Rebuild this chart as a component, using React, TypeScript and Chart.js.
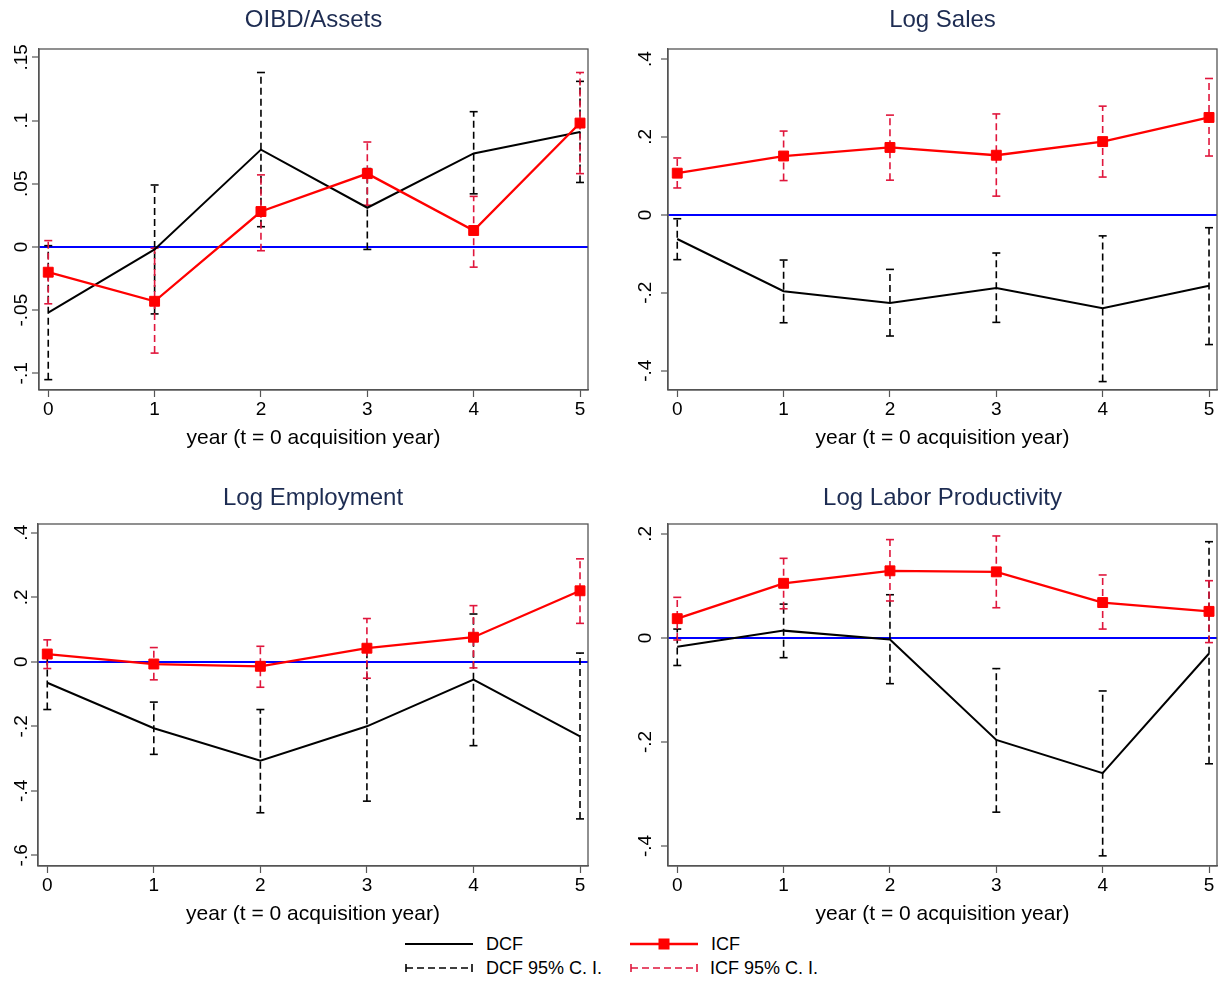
import React, { useEffect, useRef } from "react";
import { Chart, registerables } from "chart.js";

Chart.register(...registerables);

// ---------- data ----------
const years = [0, 1, 2, 3, 4, 5];
const xTickValues = [0, 1, 2, 3, 4, 5];
const xTitle = "year (t = 0 acquisition year)";

const oibdDcf = [-0.052, -0.002, 0.077, 0.031, 0.074, 0.091];
const oibdDcfLo = [-0.105, -0.053, 0.016, -0.002, 0.042, 0.051];
const oibdDcfHi = [0.001, 0.049, 0.138, 0.062, 0.107, 0.131];
const oibdIcf = [-0.02, -0.043, 0.028, 0.058, 0.013, 0.098];
const oibdIcfLo = [-0.045, -0.084, -0.003, 0.033, -0.016, 0.058];
const oibdIcfHi = [0.005, -0.001, 0.057, 0.083, 0.04, 0.138];
const oibdYTicks = [-0.1, -0.05, 0, 0.05, 0.1, 0.15];

const salesDcf = [-0.062, -0.196, -0.226, -0.188, -0.24, -0.182];
const salesDcfLo = [-0.115, -0.277, -0.311, -0.276, -0.428, -0.333];
const salesDcfHi = [-0.01, -0.116, -0.14, -0.098, -0.054, -0.033];
const salesIcf = [0.107, 0.151, 0.173, 0.153, 0.188, 0.25];
const salesIcfLo = [0.069, 0.088, 0.089, 0.048, 0.097, 0.151];
const salesIcfHi = [0.146, 0.215, 0.256, 0.259, 0.279, 0.35];
const salesYTicks = [-0.4, -0.2, 0, 0.2, 0.4];

const emplDcf = [-0.065, -0.206, -0.307, -0.2, -0.055, -0.231];
const emplDcfLo = [-0.148, -0.287, -0.468, -0.432, -0.26, -0.487];
const emplDcfHi = [0.019, -0.125, -0.148, 0.031, 0.148, 0.027];
const emplIcf = [0.024, -0.007, -0.014, 0.042, 0.076, 0.22];
const emplIcfLo = [-0.021, -0.056, -0.079, -0.051, -0.019, 0.119];
const emplIcfHi = [0.068, 0.044, 0.048, 0.134, 0.174, 0.319];
const emplYTicks = [-0.6, -0.4, -0.2, 0, 0.2, 0.4];

const prodDcf = [-0.017, 0.014, -0.003, -0.196, -0.26, -0.03];
const prodDcfLo = [-0.053, -0.038, -0.088, -0.335, -0.419, -0.242];
const prodDcfHi = [0.017, 0.065, 0.083, -0.059, -0.102, 0.185];
const prodIcf = [0.037, 0.105, 0.129, 0.127, 0.068, 0.051];
const prodIcfLo = [-0.004, 0.056, 0.071, 0.058, 0.017, -0.009];
const prodIcfHi = [0.078, 0.153, 0.189, 0.196, 0.121, 0.11];
const prodYTicks = [-0.4, -0.2, 0, 0.2];

const legendLabels = ["DCF", "ICF", "DCF 95% C. I.", "ICF 95% C. I."];

// ---------- styles ----------
const FONT = "'Liberation Sans', Arial, Helvetica, sans-serif";
const TITLE_COLOR = "#1d2c52";
const FRAME_COLOR = "#555555";
const RED = "#ff0000";
const CI_RED = "#e0163c";
const BLUE = "#0000ff";

function stataLabel(v: number): string {
  if (Math.abs(v) < 1e-9) return "0";
  const s = String(Math.round(v * 100) / 100);
  return s.replace(/^(-?)0\./, "$1.");
}

const framePlugin = {
  id: "stataFrame",
  afterDatasetsDraw(chart: any) {
    const { ctx, chartArea: a } = chart;
    ctx.save();
    ctx.strokeStyle = FRAME_COLOR;
    ctx.lineWidth = 1.3;
    ctx.strokeRect(a.left, a.top, a.right - a.left, a.bottom - a.top);
    ctx.restore();
  },
};

interface PanelSpec {
  title: string;
  dcf: number[];
  dcfLo: number[];
  dcfHi: number[];
  icf: number[];
  icfLo: number[];
  icfHi: number[];
  yTicks: number[];
  yMin: number;
  yMax: number;
  left: number;
  top: number;
  width: number;
  height: number;
  axisWidth: number;
  padRight: number;
  titleTop: number;
  titleBottom: number;
  yLabelPad: number;
}

function ciData(lo: number[], hi: number[]) {
  const out: any[] = [];
  years.forEach((x, i) => {
    out.push({ x, y: lo[i] });
    out.push({ x, y: hi[i] });
    out.push({ x, y: null });
  });
  return out;
}

function Panel({ spec }: { spec: PanelSpec }) {
  const ref = useRef<HTMLCanvasElement | null>(null);
  useEffect(() => {
    if (!ref.current) return;
    const s = spec;
    const chart = new Chart(ref.current, {
      type: "line",
      data: {
        datasets: [
          {
            label: "ICF",
            data: years.map((x, i) => ({ x, y: s.icf[i] })),
            borderColor: RED,
            borderWidth: 2.3,
            pointStyle: "rect",
            pointRadius: 7,
            pointBackgroundColor: RED,
            pointBorderColor: RED,
            pointBorderWidth: 1,
            tension: 0,
          },
          {
            label: "DCF",
            data: years.map((x, i) => ({ x, y: s.dcf[i] })),
            borderColor: "#000000",
            borderWidth: 2,
            pointRadius: 0,
            tension: 0,
          },
          {
            label: "ICF 95% C. I.",
            data: ciData(s.icfLo, s.icfHi),
            borderColor: CI_RED,
            borderWidth: 1.6,
            borderDash: [7, 4],
            pointStyle: "line",
            pointRadius: 4,
            pointBorderColor: CI_RED,
            pointBorderWidth: 1.6,
            spanGaps: false,
          },
          {
            label: "DCF 95% C. I.",
            data: ciData(s.dcfLo, s.dcfHi),
            borderColor: "#000000",
            borderWidth: 1.6,
            borderDash: [7, 4],
            pointStyle: "line",
            pointRadius: 4,
            pointBorderColor: "#000000",
            pointBorderWidth: 1.6,
            spanGaps: false,
          },
        ] as any,
      },
      options: {
        animation: false,
        responsive: false,
        events: [],
        layout: { padding: { left: 0, right: s.padRight, top: 0, bottom: 0 } },
        plugins: {
          legend: { display: false },
          tooltip: { enabled: false },
          title: {
            display: true,
            text: s.title,
            fullSize: false,
            color: TITLE_COLOR,
            font: { family: FONT, size: 24, weight: "normal" as any, lineHeight: 1.2 },
            padding: { top: s.titleTop, bottom: s.titleBottom },
          },
        },
        scales: {
          x: {
            type: "linear",
            min: -0.087,
            max: 5.075,
            afterBuildTicks: (sc: any) => {
              sc.ticks = xTickValues.map((v) => ({ value: v }));
            },
            afterFit: (sc: any) => {
              sc.height = 61;
            },
            ticks: {
              color: "#000000",
              font: { family: FONT, size: 19, lineHeight: 1.2 },
              padding: 1.6,
              maxRotation: 0,
              minRotation: 0,
              callback: (v: any) => String(v),
            },
            grid: {
              drawOnChartArea: false,
              drawTicks: true,
              tickLength: 7,
              tickColor: FRAME_COLOR,
              tickWidth: 1.2,
            },
            border: { display: true, color: FRAME_COLOR, width: 1.3 },
            title: {
              display: true,
              text: xTitle,
              color: "#000000",
              font: { family: FONT, size: 21, lineHeight: 1.2 },
              padding: { top: 0, bottom: 0 },
            },
          },
          y: {
            type: "linear",
            min: s.yMin,
            max: s.yMax,
            afterBuildTicks: (sc: any) => {
              sc.ticks = s.yTicks.map((v) => ({ value: v }));
            },
            afterFit: (sc: any) => {
              sc.width = s.axisWidth;
            },
            ticks: {
              color: "#000000",
              font: { family: FONT, size: 19, lineHeight: 1.2 },
              minRotation: 90,
              maxRotation: 90,
              crossAlign: "center",
              padding: s.yLabelPad,
              callback: (v: any) => stataLabel(Number(v)),
            },
            grid: {
              drawOnChartArea: true,
              drawTicks: true,
              tickLength: 7,
              color: (ctx: any) =>
                ctx.tick && Math.abs(ctx.tick.value) < 1e-9 ? BLUE : "rgba(0,0,0,0)",
              lineWidth: (ctx: any) =>
                ctx.tick && Math.abs(ctx.tick.value) < 1e-9 ? 2 : 0,
              tickColor: FRAME_COLOR,
              tickWidth: 1.2,
            },
            border: { display: true, color: FRAME_COLOR, width: 1.3 },
          },
        },
      } as any,
      plugins: [framePlugin],
    });
    return () => chart.destroy();
  }, [spec]);
  return (
    <canvas
      ref={ref}
      width={spec.width}
      height={spec.height}
      style={{
        position: "absolute",
        left: spec.left,
        top: spec.top,
        width: spec.width,
        height: spec.height,
      }}
    />
  );
}

const panels: PanelSpec[] = [
  {
    title: "OIBD/Assets",
    dcf: oibdDcf, dcfLo: oibdDcfLo, dcfHi: oibdDcfHi,
    icf: oibdIcf, icfLo: oibdIcfLo, icfHi: oibdIcfHi,
    yTicks: oibdYTicks, yMin: -0.1132, yMax: 0.1566,
    left: 0, top: 0, width: 610, height: 451,
    axisWidth: 39, padRight: 22, titleTop: 5.6, titleBottom: 14.6, yLabelPad: -6,
  },
  {
    title: "Log Sales",
    dcf: salesDcf, dcfLo: salesDcfLo, dcfHi: salesDcfHi,
    icf: salesIcf, icfLo: salesIcfLo, icfHi: salesIcfHi,
    yTicks: salesYTicks, yMin: -0.4496, yMax: 0.4257,
    left: 610, top: 0, width: 615, height: 451,
    axisWidth: 58, padRight: 8, titleTop: 5.6, titleBottom: 14.6, yLabelPad: 4.5,
  },
  {
    title: "Log Employment",
    dcf: emplDcf, dcfLo: emplDcfLo, dcfHi: emplDcfHi,
    icf: emplIcf, icfLo: emplIcfLo, icfHi: emplIcfHi,
    yTicks: emplYTicks, yMin: -0.633, yMax: 0.427,
    left: 0, top: 474, width: 610, height: 453,
    axisWidth: 38, padRight: 22, titleTop: 9.6, titleBottom: 11.6, yLabelPad: -1.5,
  },
  {
    title: "Log Labor Productivity",
    dcf: prodDcf, dcfLo: prodDcfLo, dcfHi: prodDcfHi,
    icf: prodIcf, icfLo: prodIcfLo, icfHi: prodIcfHi,
    yTicks: prodYTicks, yMin: -0.4385, yMax: 0.219,
    left: 610, top: 474, width: 615, height: 453,
    axisWidth: 58, padRight: 8, titleTop: 9.6, titleBottom: 11.6, yLabelPad: 4.5,
  },
];

function LegendSymbol({ kind }: { kind: number }) {
  const w = 68;
  const h = 16;
  const mid = h / 2;
  if (kind === 0) {
    return (
      <svg width={w} height={h}>
        <line x1={0} y1={mid} x2={w} y2={mid} stroke="#000" strokeWidth={2} />
      </svg>
    );
  }
  if (kind === 1) {
    return (
      <svg width={w} height={h}>
        <line x1={0} y1={mid} x2={w} y2={mid} stroke={RED} strokeWidth={2.4} />
        <rect x={w / 2 - 5.5} y={mid - 5.5} width={11} height={11} fill={RED} />
      </svg>
    );
  }
  const color = kind === 2 ? "#000" : CI_RED;
  return (
    <svg width={w} height={h}>
      <line x1={1} y1={mid} x2={w - 1} y2={mid} stroke={color} strokeWidth={1.6} strokeDasharray="7 4" />
      <line x1={1} y1={mid - 4} x2={1} y2={mid + 4} stroke={color} strokeWidth={1.6} />
      <line x1={w - 1} y1={mid - 4} x2={w - 1} y2={mid + 4} stroke={color} strokeWidth={1.6} />
    </svg>
  );
}

function Legend() {
  const items = [
    { kind: 0, x: 405, tx: 486, y: 944 },
    { kind: 1, x: 630, tx: 711, y: 944 },
    { kind: 2, x: 405, tx: 486, y: 968 },
    { kind: 3, x: 630, tx: 710, y: 968 },
  ];
  return (
    <>
      {items.map((it, i) => (
        <React.Fragment key={i}>
          <div style={{ position: "absolute", left: it.x, top: it.y - 8, height: 16, lineHeight: 0 }}>
            <LegendSymbol kind={it.kind} />
          </div>
          <div
            style={{
              position: "absolute",
              left: it.tx,
              top: it.y - 11,
              height: 22,
              lineHeight: "22px",
              fontFamily: FONT,
              fontSize: 18,
              color: "#000",
              whiteSpace: "nowrap",
            }}
          >
            {legendLabels[i]}
          </div>
        </React.Fragment>
      ))}
    </>
  );
}

export default function App() {
  useEffect(() => {
    document.body.style.margin = "0";
    document.body.style.background = "#ffffff";
  }, []);
  return (
    <div
      style={{
        position: "absolute",
        left: 0,
        top: 0,
        width: 1220,
        height: 983,
        background: "#ffffff",
        overflow: "hidden",
      }}
    >
      {panels.map((p, i) => (
        <Panel key={i} spec={p} />
      ))}
      <Legend />
    </div>
  );
}
